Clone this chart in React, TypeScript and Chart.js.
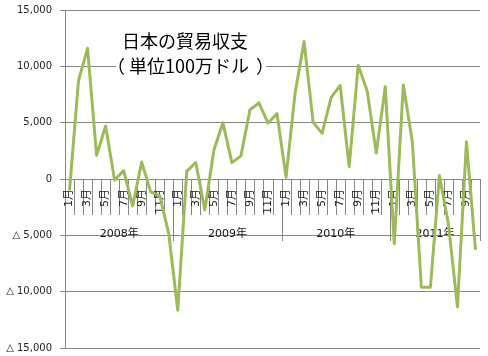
import React, { useEffect, useRef } from "react";
import { Chart, registerables } from "chart.js";

Chart.register(...registerables);

const years = [2008, 2009, 2010, 2011];
const monthsInYear = [12, 12, 12, 10];
const values = [
  // 2008
  -1000, 8750, 11600, 2100, 4700, -100, 750, -2400, 1500, -1150, -1500, -4850,
  // 2009
  -11650, 700, 1450, -2750, 2550, 5000, 1450, 2050, 6150, 6750, 4950, 5800,
  // 2010
  150, 7600, 12200, 5050, 4050, 7250, 8300, 1100, 10100, 7800, 2300, 8200,
  // 2011
  -5750, 8350, 3300, -9600, -9600, 300, -4000, -11350, 3300, -6300,
];
const yTicks = [-15000, -10000, -5000, 0, 5000, 10000, 15000];
const titleLine1 = "日本の貿易収支";
const titleLine2 = "単位100万ドル";

const categories: string[] = [];
const monthNums: number[] = [];
years.forEach((yr, i) => {
  for (let m = 1; m <= monthsInYear[i]; m++) {
    categories.push(`${yr}年${m}月`);
    monthNums.push(m);
  }
});

const GRID = "#868686";

const axisPlugin = {
  id: "multiAxis",
  beforeDatasetsDraw(chart: any) {
    const ctx = chart.ctx;
    const x = chart.scales.x;
    const y = chart.scales.y;
    const y0 = Math.round(y.getPixelForValue(0));
    ctx.save();
    ctx.strokeStyle = GRID;
    ctx.lineWidth = 1;
    // month tick marks at category boundaries
    for (let i = 0; i <= categories.length; i++) {
      const px = Math.round(x.getPixelForValue(i - 0.5)) + 0.5;
      ctx.beginPath();
      ctx.moveTo(px, y0);
      ctx.lineTo(px, y0 + 36);
      ctx.stroke();
    }
    // year separators
    let idx = 0;
    const bounds = [0];
    monthsInYear.forEach((n) => {
      idx += n;
      bounds.push(idx);
    });
    bounds.forEach((b) => {
      const px = Math.round(x.getPixelForValue(b - 0.5)) + 0.5;
      ctx.beginPath();
      ctx.moveTo(px, y0);
      ctx.lineTo(px, y0 + 62);
      ctx.stroke();
    });
    // month labels (odd months), rotated
    ctx.fillStyle = "#222";
    ctx.font = '11px "DejaVu Sans", "Noto Sans CJK JP"';
    categories.forEach((_, i) => {
      const m = monthNums[i];
      if (m % 2 === 0) return;
      const px = x.getPixelForValue(i);
      ctx.save();
      ctx.translate(px, y0 + 10);
      ctx.rotate(-Math.PI / 2);
      ctx.textAlign = "right";
      ctx.textBaseline = "middle";
      ctx.fillText(`${m}月`, 0, 0);
      ctx.restore();
    });
    // year labels
    ctx.font = '11px "DejaVu Sans", "Noto Sans CJK JP"';
    ctx.fillStyle = "#111";
    ctx.textAlign = "center";
    ctx.textBaseline = "middle";
    years.forEach((yr, i) => {
      const c = (x.getPixelForValue(bounds[i] - 0.5) + x.getPixelForValue(bounds[i + 1] - 0.5)) / 2;
      ctx.fillText(`${yr}年`, c, y0 + 55);
    });
    ctx.restore();
  },
  afterDraw(chart: any) {
    const ctx = chart.ctx;
    ctx.save();
    ctx.fillStyle = "#fff";
    ctx.fillRect(116, 27, 150, 52);
    ctx.fillStyle = "#000";
    ctx.font = '18px "Noto Sans CJK JP"';
    ctx.textBaseline = "middle";
    ctx.textAlign = "center";
    ctx.fillText(titleLine1, 185, 41);
    ctx.fillText(titleLine2, 189, 66);
    ctx.textAlign = "left";
    ctx.fillText("（", 107, 66);
    ctx.fillText("）", 256, 66);
    ctx.restore();
  },
};

export default function App() {
  const ref = useRef<HTMLCanvasElement>(null);
  useEffect(() => {
    document.body.style.margin = "0";
    const chart = new Chart(ref.current!, {
      type: "line",
      data: {
        labels: categories,
        datasets: [
          {
            data: values,
            borderColor: "#9BBB59",
            borderWidth: 3,
            pointRadius: 0,
            tension: 0,
            fill: false,
            borderJoinStyle: "round",
          },
        ],
      },
      options: {
        animation: false,
        responsive: false,
        devicePixelRatio: 1,
        layout: { padding: { left: 0, right: 8, top: 10, bottom: 8 } },
        plugins: { legend: { display: false }, tooltip: { enabled: false }, title: { display: false } },
        scales: {
          x: { type: "category", display: false, offset: true },
          y: {
            min: -15000,
            max: 15000,
            afterBuildTicks: (s: any) => {
              s.ticks = yTicks.map((v) => ({ value: v }));
            },
            afterFit: (s: any) => {
              s.width = 65;
              s.paddingTop = 0;
              s.paddingBottom = 0;
            },
            grid: { color: GRID, tickLength: 5, drawTicks: true },
            border: { color: GRID },
            ticks: {
              padding: 8,
              color: "#222",
              font: { family: '"DejaVu Sans"', size: 10 },
              callback: (v: any) => {
                const n = Number(v);
                const s = Math.abs(n).toLocaleString("en-US");
                return n < 0 ? "△ " + s : s;
              },
            },
          },
        },
      },
      plugins: [axisPlugin],
    });
    return () => chart.destroy();
  }, []);
  return (
    <div style={{ width: 488, height: 356 }}>
      <canvas ref={ref} width={488} height={356} style={{ width: 488, height: 356, display: "block" }} />
    </div>
  );
}
